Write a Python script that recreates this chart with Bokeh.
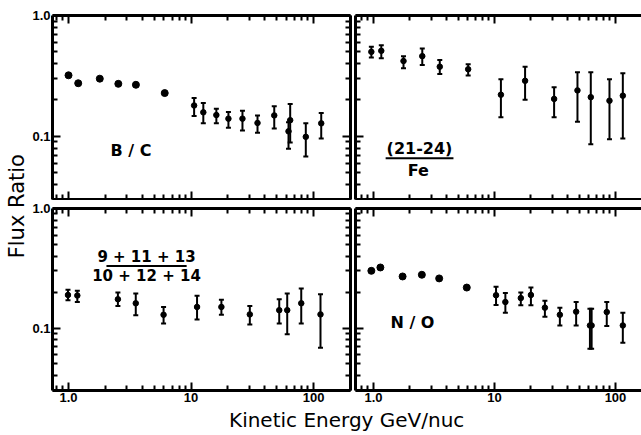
from bokeh.plotting import figure
from bokeh.models import (Range1d, FixedTicker, LogAxis, Whisker, ColumnDataSource,
                          Label, TeeHead)
from bokeh.layouts import row, column
from bokeh.embed import file_html
from bokeh.resources import INLINE

FONT = "DejaVu Sans"
TICK_FONT = "Liberation Sans"

# ---------------- data ----------------
# B/C  (top left)
bc_e_plain = [1.0, 1.2, 1.8, 2.55, 3.55, 6.1]
bc_r_plain = [0.32, 0.275, 0.30, 0.272, 0.267, 0.228]
bc_e = [10.6, 12.6, 16.1, 20.2, 26.3, 34.9, 47.8, 62.5, 64.5, 86.5, 115.6]
bc_r = [0.180, 0.158, 0.150, 0.140, 0.140, 0.129, 0.149, 0.110, 0.136, 0.099, 0.128]
bc_hi = [0.208, 0.189, 0.169, 0.159, 0.163, 0.149, 0.177, 0.131, 0.185, 0.128, 0.156]
bc_lo = [0.147, 0.128, 0.128, 0.118, 0.112, 0.107, 0.116, 0.079, 0.089, 0.068, 0.096]

# (21-24)/Fe  (top right)
fe_e = [0.96, 1.16, 1.77, 2.53, 3.53, 6.06, 11.3, 17.9, 31.1, 48.5, 62.5, 89.2, 115.0]
fe_r = [0.50, 0.51, 0.42, 0.461, 0.377, 0.359, 0.221, 0.288, 0.204, 0.240, 0.211, 0.197, 0.217]
fe_hi = [0.55, 0.568, 0.461, 0.533, 0.428, 0.394, 0.297, 0.377, 0.255, 0.339, 0.339, 0.297, 0.333]
fe_lo = [0.45, 0.442, 0.366, 0.389, 0.328, 0.318, 0.144, 0.201, 0.144, 0.132, 0.086, 0.0945, 0.096]

# (9+11+13)/(10+12+14)  (bottom left)
oe_e = [0.99, 1.18, 2.53, 3.54, 5.97, 11.2, 17.7, 30.2, 52.5, 61.0, 79.4, 114.0]
oe_r = [0.189, 0.187, 0.174, 0.161, 0.129, 0.150, 0.150, 0.130, 0.141, 0.141, 0.161, 0.130]
oe_hi = [0.209, 0.205, 0.198, 0.194, 0.150, 0.186, 0.172, 0.153, 0.174, 0.194, 0.214, 0.192]
oe_lo = [0.171, 0.165, 0.153, 0.128, 0.109, 0.118, 0.129, 0.107, 0.109, 0.0885, 0.109, 0.0683]

# N/O  (bottom right)
no_e_plain = [0.96, 1.14, 1.74, 2.51, 3.49, 5.9]
no_r_plain = [0.301, 0.321, 0.270, 0.279, 0.260, 0.218]
no_e = [10.3, 12.3, 16.5, 20.0, 26.1, 34.7, 47.3, 61.5, 63.5, 84.7, 115.0]
no_r = [0.188, 0.165, 0.178, 0.189, 0.148, 0.129, 0.137, 0.105, 0.105, 0.136, 0.105]
no_hi = [0.221, 0.196, 0.198, 0.218, 0.169, 0.148, 0.165, 0.145, 0.145, 0.165, 0.134]
no_lo = [0.156, 0.134, 0.155, 0.155, 0.124, 0.105, 0.105, 0.067, 0.067, 0.104, 0.0752]

# ticks
x_major = [1, 10, 100]
x_minor = [0.8, 0.9, 2, 3, 4, 5, 6, 7, 8, 9, 20, 30, 40, 50, 60, 70, 80, 90, 200]
y_major = [0.1, 1.0]
y_minor = [0.03, 0.04, 0.05, 0.06, 0.07, 0.08, 0.09,
           0.2, 0.3, 0.4, 0.5, 0.6, 0.7, 0.8, 0.9]
x_tick_text = {1: "1.0", 10: "10", 100: "100"}
y_tick_text = {0.1: "0.1", 1: "1.0"}


def style_axis(ax, labels=None, standoff=2):
    ax.axis_line_width = 3
    ax.axis_line_color = "black"
    ax.major_tick_in = 8
    ax.major_tick_out = 0
    ax.minor_tick_in = 5
    ax.minor_tick_out = 0
    ax.major_tick_line_width = 2
    ax.minor_tick_line_width = 2
    ax.major_tick_line_color = "black"
    ax.minor_tick_line_color = "black"
    if labels is None:
        ax.major_label_text_font_size = "1px"
        ax.major_label_text_color = None
        ax.major_label_standoff = 0
    else:
        ax.major_label_overrides = labels
        ax.major_label_text_font = TICK_FONT
        ax.major_label_text_font_style = "bold"
        ax.major_label_text_font_size = "13px"
        ax.major_label_text_color = "black"
        ax.major_label_standoff = standoff


def make_panel(x_start, x_end, fw, fh, borders, xlab, ylab, right_axis=True):
    p = figure(x_axis_type="log", y_axis_type="log",
               x_range=Range1d(x_start, x_end), y_range=Range1d(0.03, 1.0),
               frame_width=fw, frame_height=fh,
               min_border_left=borders[0], min_border_right=borders[1],
               min_border_top=borders[2], min_border_bottom=borders[3],
               toolbar_location=None, output_backend="svg",
               background_fill_color="white", border_fill_color="white")
    p.outline_line_color = None
    p.grid.visible = False
    p.add_layout(LogAxis(), "above")
    if right_axis:
        p.add_layout(LogAxis(), "right")
    for ax in p.xaxis:
        ax.ticker = FixedTicker(ticks=x_major, minor_ticks=x_minor)
    for ax in p.yaxis:
        ax.ticker = FixedTicker(ticks=y_major, minor_ticks=y_minor)
    for ax in p.below:
        style_axis(ax, x_tick_text if xlab else None, standoff=2)
    for ax in p.above:
        style_axis(ax, None)
    for ax in p.left:
        style_axis(ax, y_tick_text if ylab else None, standoff=2)
    for ax in p.right:
        style_axis(ax, None)
    return p


def add_points(p, e_plain, r_plain, e, r, hi, lo):
    if e_plain:
        p.scatter(e_plain, r_plain, size=7, color="black")
    src = ColumnDataSource(dict(e=e, r=r, hi=hi, lo=lo))
    p.add_layout(Whisker(source=src, base="e", upper="hi", lower="lo",
                         dimension="height", line_width=2, line_color="black",
                         upper_head=TeeHead(size=5, line_width=2, line_color="black"),
                         lower_head=TeeHead(size=5, line_width=2, line_color="black")))
    p.scatter("e", "r", source=src, size=5.5, color="black")


def text_label(p, x, y, text, size="16px", align="left", bold=True):
    p.add_layout(Label(x=x, y=y, text=text, text_font=FONT,
                       text_font_style="bold" if bold else "normal",
                       text_font_size=size, text_align=align,
                       text_baseline="middle", text_color="black"))


# --------------- panels ---------------
tl = make_panel(0.740, 200.4, 298, 184, (20, 2, 15, 1), False, True)
tr = make_panel(0.710, 173.7, 289, 184, (3, 0, 15, 1), False, False, right_axis=False)
bl = make_panel(0.740, 200.4, 298, 182, (20, 2, 8, 18), True, True)
br = make_panel(0.710, 173.7, 289, 182, (3, 0, 8, 18), True, False, right_axis=False)

add_points(tl, bc_e_plain, bc_r_plain, bc_e, bc_r, bc_hi, bc_lo)
add_points(tr, [], [], fe_e, fe_r, fe_hi, fe_lo)
add_points(bl, [], [], oe_e, oe_r, oe_hi, oe_lo)
add_points(br, no_e_plain, no_r_plain, no_e, no_r, no_hi, no_lo)

text_label(tl, 2.2, 0.0768, "B / C")
text_label(tr, 2.4, 0.079, "(21-24)", align="center")
tr.segment(x0=[1.26], y0=[0.066], x1=[4.58], y1=[0.066], line_width=2, color="black")
text_label(tr, 2.35, 0.0525, "Fe", align="center")
text_label(bl, 4.33, 0.392, "9 + 11 + 13", size="15px", align="center")
bl.segment(x0=[2.04], y0=[0.330], x1=[9.21], y1=[0.330], line_width=2, color="black")
text_label(bl, 4.33, 0.272, "10 + 12 + 14", size="15px", align="center")
text_label(br, 1.38, 0.111, "N / O")

# --------------- shared axis titles ---------------
ylab_fig = figure(width=29, height=408, x_range=Range1d(0, 1), y_range=Range1d(0, 1),
                  min_border=0, toolbar_location=None, output_backend="svg")
ylab_fig.axis.visible = False
ylab_fig.grid.visible = False
ylab_fig.outline_line_color = None
ylab_fig.add_layout(Label(x=0.569, y=0.504, text="Flux  Ratio", angle=1.5707963,
                          text_font=FONT, text_font_size="21px",
                          text_align="center", text_baseline="middle",
                          text_color="black"))

xlab_fig = figure(width=641, height=27, x_range=Range1d(0, 1), y_range=Range1d(0, 1),
                  min_border=0, toolbar_location=None, output_backend="svg")
xlab_fig.axis.visible = False
xlab_fig.grid.visible = False
xlab_fig.outline_line_color = None
xlab_fig.add_layout(Label(x=0.55, y=0.58, text="Kinetic  Energy  GeV/nuc",
                          text_font=FONT, text_font_size="20px",
                          text_align="center", text_baseline="alphabetic",
                          text_color="black"))

grid = column(row(tl, tr, spacing=0), row(bl, br, spacing=0), spacing=0)
layout = column(row(ylab_fig, grid, spacing=0), xlab_fig, spacing=0)

open("out.html", "w").write(file_html(layout, INLINE))
